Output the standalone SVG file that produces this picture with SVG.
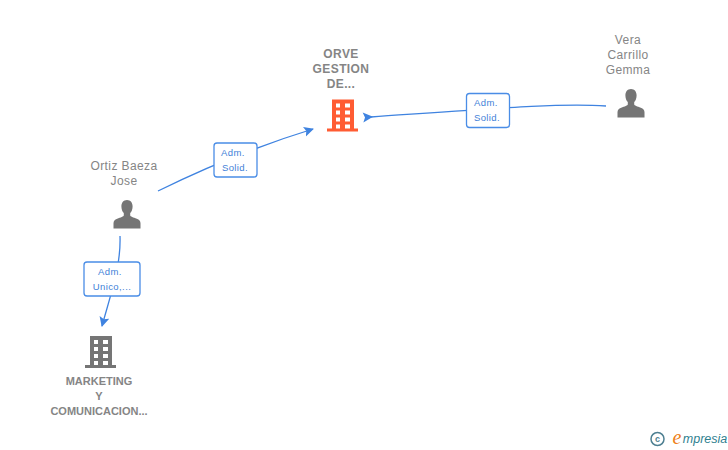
<svg xmlns="http://www.w3.org/2000/svg" width="728" height="450" viewBox="0 0 728 450">
<style>
text{font-family:"Liberation Sans",Arial,sans-serif;text-anchor:middle}
.n{font-size:12px;fill:#858585;letter-spacing:.4px}
.b{font-size:12px;fill:#858585;font-weight:bold;letter-spacing:.4px}
.c{font-size:11px;fill:#858585;font-weight:bold}
.e{fill:none;stroke:#3f83e0;stroke-width:1.3}
.l rect{fill:#fff;stroke:#4a8de6;stroke-width:1.3}
.l text{font-size:9.5px;fill:#3f7fd8;letter-spacing:.4px}
</style>
<defs>
<marker id="a" markerWidth="12" markerHeight="12" refX="2" refY="5" orient="auto" markerUnits="userSpaceOnUse"><path d="M0 5L10 0L8 5L10 10Z" fill="#3f83e0"/></marker>
<marker id="r" markerWidth="12" markerHeight="12" refX="9" refY="5" orient="auto" markerUnits="userSpaceOnUse"><path d="M10 5L0 0L2 5L0 10Z" fill="#3f83e0"/></marker>
<path id="person" d="M0-16c3.6 0 5.6 2.8 5.6 6.4 0 3-1.1 5.3-2.4 6.6v2.4c0 1 3.2 1.9 6.6 3.3C12.300 3.700 13.500 5 13.500 7.300V12.500H-13.500V7.300C-13.500 5-12.300 3.700-9.800 2.700-6.400 1.300-3.200.4-3.200-.6V-3C-4.500-4.300-5.600-6.600-5.600-9.600-5.600-13.200-3.600-16 0-16Z" fill="#757575"/>
<g id="bld">
<path fill-rule="evenodd" d="M-11-16H11V13H15V16H-16V13H-11ZM-7-12V-8H-3V-12ZM2-12V-8H7V-12ZM-7-5V-1H-3V-5ZM2-5V-1H7V-5ZM-7 2V6H-3V2ZM2 2V6H7V2ZM-7 9V13H-3V9ZM2 9V13H7V9Z"/>
</g>
</defs>
<g id="connectors">
<path class="e" marker-end="url(#r)" d="M158 191Q235 153 313 129"/>
<path class="e" marker-end="url(#a)" d="M606 106C560 103 500 108 371 117"/>
<path class="e" marker-end="url(#r)" d="M120 236C121 265 112 290 102 326"/>
</g>
<g id="node-orve">
<text class="b" x="341" y="58">ORVE</text><text class="b" x="341" y="73">GESTION</text><text class="b" x="341" y="88">DE...</text>
<use href="#bld" x="343" y="115.500" fill="#ff5c33"/>
</g>
<g id="node-vera">
<text class="n" x="628" y="44">Vera</text><text class="n" x="628" y="59">Carrillo</text><text class="n" x="628" y="74">Gemma</text>
<use href="#person" x="631" y="105"/>
</g>
<g id="node-ortiz">
<text class="n" x="124" y="170">Ortiz Baeza</text><text class="n" x="124" y="185">Jose</text>
<use href="#person" x="127" y="216"/>
</g>
<g id="node-marketing">
<text class="c" x="99" y="385">MARKETING</text><text class="c" x="99" y="400">Y</text><text class="c" x="99" y="415">COMUNICACION...</text>
<use href="#bld" x="101" y="352" fill="#757575"/>
</g>
<g id="label-1" class="l"><rect x="214" y="143" width="43" height="34" rx="3"/><text x="233" y="156">Adm.</text><text x="235" y="171">Solid.</text></g>
<g id="label-2" class="l"><rect x="466.500" y="93.500" width="43" height="34" rx="3"/><text x="486" y="106">Adm.</text><text x="487" y="121">Solid.</text></g>
<g id="label-3" class="l"><rect x="84" y="262" width="56" height="34" rx="3"/><text x="110" y="275">Adm.</text><text x="112" y="290">Unico,...</text></g>
<g id="logo">
<circle cx="657.500" cy="439" r="6.500" fill="none" stroke="#4d7f91" stroke-width="1.500"/>
<text x="657.500" y="442" style="font-size:9px;fill:#4d7f91;font-weight:bold">c</text>
<text x="677" y="444" style="font-family:'Liberation Serif',serif;font-size:20px;font-style:italic;fill:#ee7f1a">e</text>
<text x="705" y="443" style="font-size:12.500px;font-style:italic;fill:#2f7f8f">mpresia</text>
</g>
</svg>
